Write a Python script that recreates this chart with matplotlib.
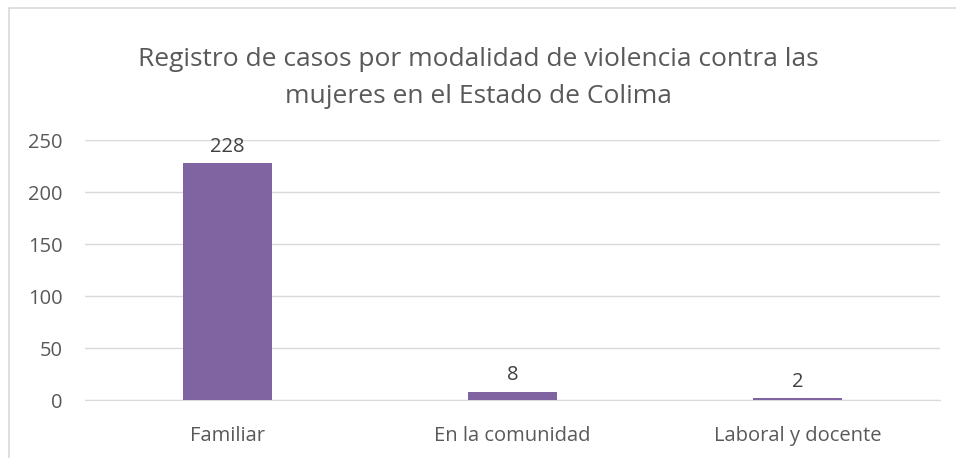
import matplotlib
matplotlib.use('Agg')
import matplotlib.pyplot as plt
from matplotlib.patches import Rectangle

plt.rcParams['font.family'] = ['Open Sans', 'DejaVu Sans']

categories = ['Familiar', 'En la comunidad', 'Laboral y docente']
casos = [228, 8, 2]
y_ticks = [0, 50, 100, 150, 200, 250]
title = 'Registro de casos por modalidad de violencia contra las\nmujeres en el Estado de Colima'

W, H = 956, 458
fig = plt.figure(figsize=(W / 100, H / 100), dpi=100)

# plot area in pixels: x 85..940, y 140..400
ax = fig.add_axes([85 / W, 1 - 400 / H, (940 - 85) / W, (400 - 140) / H])

x = range(len(categories))
ax.bar(x, casos, width=0.31, color='#8064A2', zorder=3)
for i, v in enumerate(casos):
    ax.annotate(str(v), (i, v), xytext=(0, 4.5), textcoords='offset points',
                ha='center', va='bottom', fontsize=14.5, color='#404040')

ax.set_ylim(0, 250)
ax.set_xlim(-0.5, len(categories) - 0.5)
ax.set_yticks(y_ticks)
ax.set_xticks(list(x))
ax.set_xticklabels(categories)
ax.yaxis.grid(True, color='#D9D9D9', linewidth=1)
ax.tick_params(axis='both', length=0, labelsize=14.5, labelcolor='#595959')
ax.tick_params(axis='x', pad=19)
ax.tick_params(axis='y', pad=16)
for s in ['top', 'right', 'left']:
    ax.spines[s].set_visible(False)
ax.spines['bottom'].set_color('#D9D9D9')

fig.text(478 / W, 1 - 78 / H, title, ha='center', va='center', fontsize=19,
         color='#595959', linespacing=1.6)

# chart outer border
fig.patches.append(Rectangle((9 / W, -0.1), 1.2, 1 - 8 / H + 0.1, transform=fig.transFigure,
                             fill=False, edgecolor='#D9D9D9', linewidth=1.2))

fig.savefig('out.png', dpi=100)
